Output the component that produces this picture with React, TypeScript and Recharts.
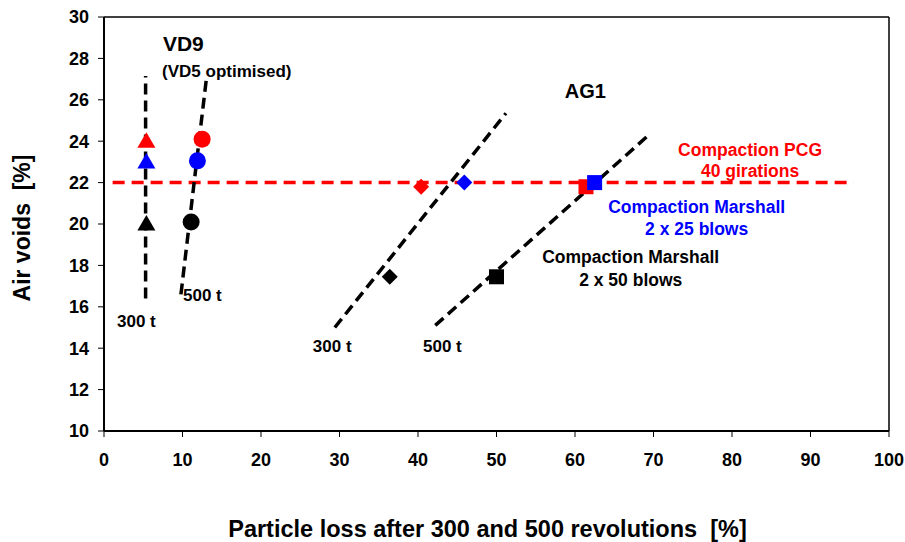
import React from 'react';
import {
  ScatterChart, Scatter, XAxis, YAxis, ReferenceLine,
} from 'recharts';

// ---------- data ----------
const xTicks = [0, 10, 20, 30, 40, 50, 60, 70, 80, 90, 100];
const yTicks = [10, 12, 14, 16, 18, 20, 22, 24, 26, 28, 30];

// VD9 (300 t) – triangles
const vd9Pcg300 = [{ x: 5.4, y: 24.0 }];
const vd9Marshall25_300 = [{ x: 5.4, y: 23.0 }];
const vd9Marshall50_300 = [{ x: 5.4, y: 20.0 }];
// VD9 (500 t) – circles
const vd9Pcg500 = [{ x: 12.5, y: 24.1 }];
const vd9Marshall25_500 = [{ x: 11.9, y: 23.05 }];
const vd9Marshall50_500 = [{ x: 11.1, y: 20.1 }];
// AG1 (300 t) – diamonds
const ag1Pcg300 = [{ x: 40.4, y: 21.8 }];
const ag1Marshall25_300 = [{ x: 45.9, y: 22.0 }];
const ag1Marshall50_300 = [{ x: 36.4, y: 17.45 }];
// AG1 (500 t) – squares
const ag1Pcg500 = [{ x: 61.4, y: 21.8 }];
const ag1Marshall25_500 = [{ x: 62.5, y: 22.0 }];
const ag1Marshall50_500 = [{ x: 50.0, y: 17.45 }];

// trend lines
const vd9Line300 = [{ x: 5.3, y: 16.4 }, { x: 5.3, y: 27.15 }];
const vd9Line500 = [{ x: 9.8, y: 16.6 }, { x: 13.1, y: 27.2 }];
const ag1Line300 = [{ x: 29.4, y: 15.0 }, { x: 51.2, y: 25.35 }];
const ag1Line500 = [{ x: 42.2, y: 15.1 }, { x: 69.4, y: 24.3 }];
const pcgLine = [{ x: 1.1, y: 22 }, { x: 95.5, y: 22 }];

// annotations (text, anchor point in data units)
const annotations = [
  { x: 7.5, y: 28.74, text: 'VD9', kind: 'big', anchor: 'start', color: 'black' },
  { x: 7.4, y: 27.39, text: '(VD5 optimised)', kind: 'small', anchor: 'start', color: 'black' },
  { x: 1.66, y: 15.31, text: '300 t', kind: 'small', anchor: 'start', color: 'black' },
  { x: 10.06, y: 16.57, text: '500 t', kind: 'small', anchor: 'start', color: 'black' },
  { x: 58.7, y: 26.43, text: 'AG1', kind: 'mid', anchor: 'start', color: 'black' },
  { x: 26.6, y: 14.1, text: '300 t', kind: 'small', anchor: 'start', color: 'black' },
  { x: 40.64, y: 14.1, text: '500 t', kind: 'small', anchor: 'start', color: 'black' },
  { x: 82.3, y: 23.57, text: 'Compaction PCG', kind: 'comp', anchor: 'middle', color: 'red' },
  { x: 82.3, y: 22.58, text: '40 girations', kind: 'comp', anchor: 'middle', color: 'red' },
  { x: 75.5, y: 20.82, text: 'Compaction Marshall', kind: 'comp', anchor: 'middle', color: 'blue' },
  { x: 75.5, y: 19.76, text: '2 x 25 blows', kind: 'comp', anchor: 'middle', color: 'blue' },
  { x: 67.1, y: 18.41, text: 'Compaction Marshall', kind: 'comp', anchor: 'middle', color: 'black' },
  { x: 67.1, y: 17.29, text: '2 x 50 blows', kind: 'comp', anchor: 'middle', color: 'black' },
];

// ---------- styles ----------
const FONT = '"Liberation Sans", Arial, sans-serif';
const RED = '#ff0000';
const BLUE = '#0000ff';
const BLACK = '#000000';
const colorMap: Record<string, string> = { red: RED, blue: BLUE, black: BLACK };
const sizeMap: Record<string, number> = { big: 21, mid: 20, small: 17, comp: 17.5 };

const Triangle = (color: string) => (p: any) => {
  const { cx, cy } = p;
  if (cx == null || cy == null) return <g />;
  return <polygon points={`${cx},${cy - 9} ${cx + 9},${cy + 6.5} ${cx - 9},${cy + 6.5}`} fill={color} />;
};
const Circle = (color: string) => (p: any) => {
  const { cx, cy } = p;
  if (cx == null || cy == null) return <g />;
  return <circle cx={cx} cy={cy} r={8.5} fill={color} />;
};
const Diamond = (color: string) => (p: any) => {
  const { cx, cy } = p;
  if (cx == null || cy == null) return <g />;
  return <polygon points={`${cx},${cy - 8} ${cx + 8},${cy} ${cx},${cy + 8} ${cx - 8},${cy}`} fill={color} />;
};
const Square = (color: string) => (p: any) => {
  const { cx, cy } = p;
  if (cx == null || cy == null) return <g />;
  return <rect x={cx - 7.5} y={cy - 7.5} width={15} height={15} fill={color} />;
};
const TextShape = (p: any) => {
  const { cx, cy, payload } = p;
  if (cx == null || cy == null || !payload) return <g />;
  return (
    <text
      x={cx}
      y={cy}
      textAnchor={payload.anchor}
      dominantBaseline="central"
      fontFamily={FONT}
      fontWeight="bold"
      fontSize={sizeMap[payload.kind]}
      fill={colorMap[payload.color]}
    >
      {payload.text}
    </text>
  );
};

const seg = (d: { x: number; y: number }[]) =>
  [{ x: d[0].x, y: d[0].y }, { x: d[1].x, y: d[1].y }] as any;

export default function App() {
  const tickStyle = { fontFamily: FONT, fontWeight: 'bold', fontSize: 18, fill: BLACK };
  return (
    <div style={{ position: 'absolute', left: 0, top: 0, width: 905, height: 542, background: '#fff' }}>
      <ScatterChart
        width={905}
        height={542}
        margin={{ top: 17, right: 16, bottom: 0, left: 0 }}
      >
        <XAxis
          type="number"
          dataKey="x"
          domain={[0, 100]}
          ticks={xTicks}
          interval={0}
          allowDataOverflow
          height={111}
          tickSize={6}
          tickMargin={16}
          tick={tickStyle}
          axisLine={{ stroke: BLACK, strokeWidth: 2 }}
          tickLine={{ stroke: BLACK, strokeWidth: 1 }}
          label={{
            value: 'Particle loss after 300 and 500 revolutions\u00a0 [%]',
            position: 'insideBottom',
            offset: 5,
            dx: -9,
            style: { fontFamily: FONT, fontWeight: 'bold', fontSize: 23.5, fill: BLACK },
          }}
        />
        <YAxis
          type="number"
          dataKey="y"
          domain={[10, 30]}
          ticks={yTicks}
          interval={0}
          allowDataOverflow
          width={104}
          tickSize={6}
          tickMargin={9}
          tick={tickStyle}
          axisLine={{ stroke: BLACK, strokeWidth: 2 }}
          tickLine={{ stroke: BLACK, strokeWidth: 1 }}
          label={{
            value: 'Air voids\u00a0 [%]',
            angle: -90,
            position: 'insideLeft',
            offset: 22,
            dy: 4,
            style: { fontFamily: FONT, fontWeight: 'bold', fontSize: 23, fill: BLACK, textAnchor: 'middle' },
          }}
        />
        {/* frame */}
        <ReferenceLine y={30} stroke={BLACK} strokeWidth={1.5} ifOverflow="visible" />
        <ReferenceLine x={100} stroke={BLACK} strokeWidth={1.5} ifOverflow="visible" />

        {/* markers */}
        <Scatter data={vd9Pcg300} shape={Triangle(RED)} isAnimationActive={false} />
        <Scatter data={vd9Marshall25_300} shape={Triangle(BLUE)} isAnimationActive={false} />
        <Scatter data={vd9Marshall50_300} shape={Triangle(BLACK)} isAnimationActive={false} />
        <Scatter data={vd9Pcg500} shape={Circle(RED)} isAnimationActive={false} />
        <Scatter data={vd9Marshall25_500} shape={Circle(BLUE)} isAnimationActive={false} />
        <Scatter data={vd9Marshall50_500} shape={Circle(BLACK)} isAnimationActive={false} />
        <Scatter data={ag1Pcg300} shape={Diamond(RED)} isAnimationActive={false} />
        <Scatter data={ag1Marshall25_300} shape={Diamond(BLUE)} isAnimationActive={false} />
        <Scatter data={ag1Marshall50_300} shape={Diamond(BLACK)} isAnimationActive={false} />
        <Scatter data={ag1Pcg500} shape={Square(RED)} isAnimationActive={false} />
        <Scatter data={ag1Marshall25_500} shape={Square(BLUE)} isAnimationActive={false} />
        <Scatter data={ag1Marshall50_500} shape={Square(BLACK)} isAnimationActive={false} />

        {/* trend lines */}
        <ReferenceLine segment={seg(pcgLine)} stroke={RED} strokeWidth={3.5} strokeDasharray="12 7" ifOverflow="visible" />
        <ReferenceLine segment={seg(vd9Line300)} stroke={BLACK} strokeWidth={3.5} strokeDasharray="11 6" ifOverflow="visible" />
        <ReferenceLine segment={seg(vd9Line500)} stroke={BLACK} strokeWidth={3.5} strokeDasharray="11 6" ifOverflow="visible" />
        <ReferenceLine segment={seg(ag1Line300)} stroke={BLACK} strokeWidth={3.5} strokeDasharray="11 6" ifOverflow="visible" />
        <ReferenceLine segment={seg(ag1Line500)} stroke={BLACK} strokeWidth={3.5} strokeDasharray="11 6" ifOverflow="visible" />

        {/* annotations */}
        <Scatter data={annotations} shape={TextShape} isAnimationActive={false} />
      </ScatterChart>
    </div>
  );
}
